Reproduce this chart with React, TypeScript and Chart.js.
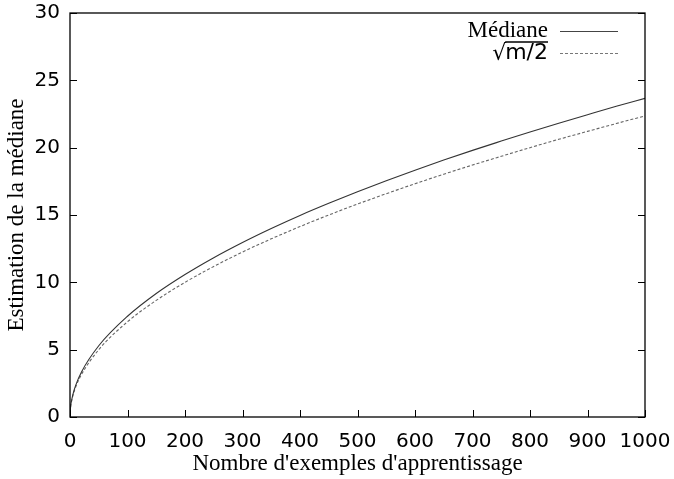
import React, { useEffect, useRef } from "react";
import { Chart, registerables } from "chart.js";

Chart.register(...registerables);

// Data
const sampleSizes = [0, 1, 2, 5, 10, 20, 50, 100, 150, 200, 250, 300, 350, 400, 450, 500, 550, 600, 650, 700, 750, 800, 850, 900, 950, 1000];
const medianValues = [0, 0.75, 1.06, 1.67, 2.37, 3.35, 5.29, 7.48, 9.17, 10.58, 11.83, 12.96, 14.0, 14.97, 15.87, 16.73, 17.55, 18.33, 19.08, 19.8, 20.49, 21.17, 21.82, 22.45, 23.07, 23.66];
const sqrtHalfValues = [0, 0.71, 1.0, 1.58, 2.24, 3.16, 5.0, 7.07, 8.66, 10.0, 11.18, 12.25, 13.23, 14.14, 15.0, 15.81, 16.58, 17.32, 18.03, 18.71, 19.36, 20.0, 20.62, 21.21, 21.79, 22.36];
const xTickValues = [0, 100, 200, 300, 400, 500, 600, 700, 800, 900, 1000];
const yTickValues = [0, 5, 10, 15, 20, 25, 30];
const seriesLabels = ["Médiane", "m/2"];
const xTitle = "Nombre d'exemples d'apprentissage";
const yTitle = "Estimation de la médiane";

const SERIF = "'Liberation Serif', 'Times New Roman', serif";
const SANS = "'DejaVu Sans', sans-serif";

const framePlugin = {
  id: "frame",
  afterDraw(chart: any) {
    const { ctx, chartArea } = chart;
    const { left, right, top, bottom } = chartArea;
    const xs = chart.scales.x;
    const ys = chart.scales.y;
    ctx.save();
    ctx.strokeStyle = "#000";
    ctx.lineWidth = 1.3;
    ctx.setLineDash([]);
    ctx.strokeRect(left, top, right - left, bottom - top);
    ctx.lineWidth = 1;
    ctx.beginPath();
    xTickValues.forEach((v) => {
      const px = Math.round(xs.getPixelForValue(v)) + 0.5;
      ctx.moveTo(px, bottom);
      ctx.lineTo(px, bottom - 7);
    });
    yTickValues.forEach((v) => {
      const py = Math.round(ys.getPixelForValue(v)) + 0.5;
      ctx.moveTo(left, py);
      ctx.lineTo(left + 7, py);
      ctx.moveTo(right, py);
      ctx.lineTo(right - 7, py);
    });
    ctx.stroke();

    // Legend
    const textRight = 548;
    const sampleL = 560;
    const sampleR = 618;
    const y1 = 31;
    const y2 = 53;
    ctx.fillStyle = "#000";
    ctx.textAlign = "right";
    ctx.textBaseline = "middle";
    ctx.font = `23px ${SERIF}`;
    ctx.fillText(seriesLabels[0], textRight, y1);
    ctx.strokeStyle = "#444";
    ctx.lineWidth = 1;
    ctx.beginPath();
    ctx.moveTo(sampleL, y1 + 0.5);
    ctx.lineTo(sampleR, y1 + 0.5);
    ctx.stroke();

    ctx.font = `22px ${SANS}`;
    const w = ctx.measureText(seriesLabels[1]).width;
    ctx.fillText(seriesLabels[1], textRight, y2);
    ctx.fillText("\u221A", textRight - w + 1, y2 + 1);
    ctx.strokeStyle = "#000";
    ctx.lineWidth = 1.3;
    ctx.beginPath();
    ctx.moveTo(textRight - w, y2 - 11);
    ctx.lineTo(textRight, y2 - 11);
    ctx.stroke();

    ctx.strokeStyle = "#777";
    ctx.lineWidth = 1;
    ctx.setLineDash([3, 2]);
    ctx.beginPath();
    ctx.moveTo(sampleL, y2 + 0.5);
    ctx.lineTo(sampleR, y2 + 0.5);
    ctx.stroke();
    ctx.restore();
  },
};

export default function App() {
  const canvasRef = useRef<HTMLCanvasElement | null>(null);

  useEffect(() => {
    document.body.style.margin = "0";
    const canvas = canvasRef.current;
    if (!canvas) return;
    const chart = new Chart(canvas, {
      type: "line",
      data: {
        datasets: [
          {
            label: seriesLabels[0],
            data: sampleSizes.map((x, i) => ({ x, y: medianValues[i] })),
            borderColor: "#333",
            borderWidth: 1.1,
            pointRadius: 0,
            cubicInterpolationMode: "monotone",
            fill: false,
          },
          {
            label: seriesLabels[1],
            data: sampleSizes.map((x, i) => ({ x, y: sqrtHalfValues[i] })),
            borderColor: "#666",
            borderWidth: 1.1,
            borderDash: [3, 2],
            pointRadius: 0,
            cubicInterpolationMode: "monotone",
            fill: false,
          },
        ],
      },
      options: {
        animation: false,
        responsive: false,
        maintainAspectRatio: false,
        devicePixelRatio: 1,
        layout: { padding: { top: 13, right: 29, left: 0, bottom: 0 } },
        plugins: {
          legend: { display: false },
          tooltip: { enabled: false },
        },
        scales: {
          x: {
            type: "linear",
            min: 0,
            max: 1000,
            afterBuildTicks: (scale: any) => {
              scale.ticks = xTickValues.map((v) => ({ value: v }));
            },
            afterFit: (scale: any) => {
              scale.height = 62;
              scale.paddingLeft = 0;
              scale.paddingRight = 0;
            },
            grid: { display: false, drawTicks: false },
            border: { display: false },
            ticks: {
              color: "#000",
              font: { family: SANS, size: 20 },
              padding: 13,
              maxRotation: 0,
              autoSkip: false,
              callback: (v: any) => String(v),
            },
            title: {
              display: true,
              text: xTitle,
              color: "#000",
              font: { family: SERIF, size: 23 },
              padding: { top: 0, bottom: 1 },
            },
          },
          y: {
            type: "linear",
            min: 0,
            max: 30,
            afterBuildTicks: (scale: any) => {
              scale.ticks = yTickValues.map((v) => ({ value: v }));
            },
            afterFit: (scale: any) => {
              scale.width = 70;
              scale.paddingTop = 0;
              scale.paddingBottom = 0;
            },
            grid: { display: false, drawTicks: false },
            border: { display: false },
            ticks: {
              color: "#000",
              font: { family: SANS, size: 20 },
              padding: 10,
              autoSkip: false,
              callback: (v: any) => String(v),
            },
            title: {
              display: true,
              text: yTitle,
              color: "#000",
              font: { family: SERIF, size: 23 },
              padding: { top: 3, bottom: 0 },
            },
          },
        },
      },
      plugins: [framePlugin],
    } as any);
    return () => chart.destroy();
  }, []);

  return <canvas ref={canvasRef} width={674} height={479} style={{ display: "block" }} />;
}
